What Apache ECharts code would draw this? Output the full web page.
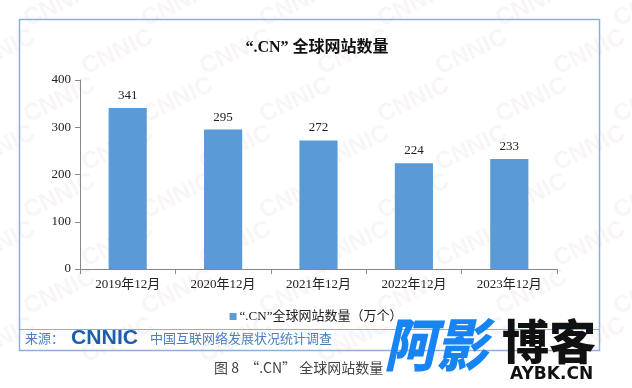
<!DOCTYPE html>
<html><head><meta charset="utf-8">
<script src="https://cdn.jsdelivr.net/npm/echarts@6/dist/echarts.min.js"></script>
<style>html,body{margin:0;padding:0;background:#fff}#c{width:632px;height:388px}</style>
</head><body><div id="c"></div>
<script>
const categories = ['2019年12月','2020年12月','2021年12月','2022年12月','2023年12月'];
const values = [341, 295, 272, 224, 233];
const seriesName = '“.CN”全球网站数量（万个）';
const titleText = '“.CN” 全球网站数量';
const yTicks = [0, 100, 200, 300, 400];

const serif = '"Liberation Serif","Noto Sans CJK SC",serif';
const cjk = '"Noto Sans CJK SC","Liberation Serif",sans-serif';

const chart = echarts.init(document.getElementById('c'), null, {renderer:'canvas'});

// faint CNNIC background watermark pattern
const wm = [];
for (let r = -1; r < 8; r++) {
  for (let c = -1; c < 7; c++) {
    wm.push({
      type:'text', silent:true, z:0,
      x: 20 + c*118 + (r%2)*58, y: 10 + r*48,
      rotation: Math.PI/7,
      style:{text:'CNNIC', fill:'rgba(220,195,195,0.16)', font:'bold 24px "Liberation Sans",sans-serif'}
    });
  }
}

chart.setOption({
  animation:false,
  title:{text:titleText, left:312, top:35, textAlign:'center',
    textStyle:{fontFamily:serif, fontSize:16, fontWeight:'bold', color:'#111'}},
  grid:{left:80, right:75, top:80, bottom:119, containLabel:false},
  legend:{data:[seriesName], bottom:60, left:'center', itemWidth:7, itemHeight:7, icon:'rect', itemGap:4,
    textStyle:{fontFamily:serif, fontSize:13, color:'#222', padding:[0,0,0,-2]}},
  xAxis:{type:'category', data:categories,
    axisLine:{lineStyle:{color:'#888'}},
    axisTick:{show:true, length:5, lineStyle:{color:'#888'}},
    axisLabel:{fontFamily:serif, fontSize:13, color:'#222', margin:9}},
  yAxis:{type:'value', min:yTicks[0], max:yTicks[yTicks.length-1], interval:100,
    axisLine:{show:true, lineStyle:{color:'#888'}},
    axisTick:{show:true, length:5, lineStyle:{color:'#888'}},
    splitLine:{show:false},
    axisLabel:{fontFamily:serif, fontSize:13, color:'#222', margin:9}},
  series:[{name:seriesName, type:'bar', data:values, barWidth:'40%',
    itemStyle:{color:'#5b9bd5'},
    label:{show:true, position:'top', distance:6, fontFamily:serif, fontSize:13, color:'#222'}}],
  graphic:[
    ...wm,
    {type:'rect', silent:true, z:5, shape:{x:19.5, y:19.5, width:580, height:331},
      style:{fill:'none', stroke:'#8eaedb', lineWidth:1.5}},
    {type:'line', silent:true, z:5, shape:{x1:19.5, y1:329.5, x2:599.5, y2:329.5},
      style:{stroke:'#8eaedb', lineWidth:1.2}},
    {type:'text', z:6, x:25, y:332, style:{text:'来源：', fill:'#4a7fc0', font:'13px '+cjk}},
    {type:'text', z:6, x:71, y:328, scaleX:1.06, style:{text:'CNNIC', fill:'#1b5faa', font:'900 20px "Liberation Sans",sans-serif'}},
    {type:'text', z:6, x:150, y:332, style:{text:'中国互联网络发展状况统计调查', fill:'#4a7fc0', font:'13px '+cjk}},
    {type:'text', z:6, x:214, y:361, style:{text:'图 8  “.CN” 全球网站数量', fill:'#444', font:'14px '+cjk}},
    {type:'text', z:10, x:384, y:316, scaleY:1.1, style:{text:'阿影', fill:'#1684f2', font:'italic 900 52px '+cjk}},
    {type:'text', z:10, x:502, y:318, style:{text:'博客', fill:'#111', font:'900 47px '+cjk}},
    {type:'text', z:10, x:510, y:366, style:{text:'AYBK.CN', fill:'#111', font:'bold 17px "DejaVu Sans",sans-serif'}}
  ]
});
</script></body></html>
